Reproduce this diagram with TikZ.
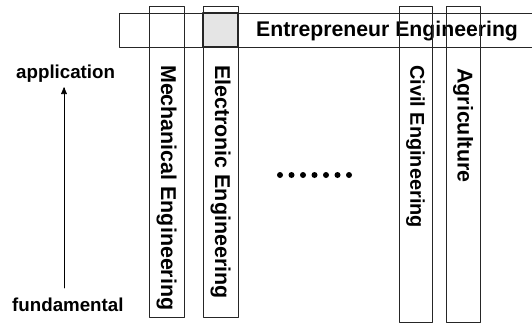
\documentclass[tikz,border=0pt]{standalone}
\usepackage{fontspec}
\setmainfont{Liberation Sans}[BoldFont={Liberation Sans Bold}]
\usepackage{tikz}
\usetikzlibrary{arrows}

\begin{document}
\begin{tikzpicture}[line cap=round,line join=round,>=triangle 45,x=1bp,y=1bp]
\useasboundingbox (0,0) rectangle (532,323);
\tikzstyle{field}= [draw=black!85, line width=0.8pt, inner sep=0pt, minimum width=35bp];
\tikzstyle{vlabel}= [rotate=-90, anchor=west, inner sep=0pt, font=\fontsize{21.5}{24}\selectfont\bfseries];
\tikzstyle{hlabel}= [anchor=base west, inner sep=0pt, font=\fontsize{18.8}{21}\selectfont\bfseries];
% horizontal bar
\node [field, minimum width=426bp, minimum height=34bp] (bar) at (332,293) {};
\node [field, fill=black!10, line width=1.2pt, minimum height=34bp] (cell) at (220.5,293) {};
\node [anchor=base west, inner sep=0pt, font=\fontsize{21.3}{24}\selectfont\bfseries] (entre) at (256,287) {Entrepreneur Engineering};
% vertical fields
\node [field, minimum height=311bp] (mech) at (166.5,161.5) {};
\node [field, minimum height=311bp] (elec) at (220.5,161.5) {};
\node [field, minimum width=33bp, minimum height=316bp] (civil) at (415.5,159) {};
\node [field, minimum width=34bp, minimum height=316bp] (agri) at (463,159) {};
\node [vlabel] (mechtxt) at (mech.center |- 0,258) {Mechanical Engineering};
\node [vlabel] (electxt) at (elec.center |- 0,258) {Electronic Engineering};
\node [vlabel, font=\fontsize{20}{22}\selectfont\bfseries] (civiltxt) at (civil.center |- 0,258) {Civil Engineering};
\node [vlabel] (agritxt) at (agri.center |- 0,255) {Agriculture};
% axis
\node [hlabel] (appl) at (16,245) {application};
\node [hlabel] (fund) at (12,12) {fundamental};
\coordinate (low) at (64,35);
\coordinate (high) at (64,236);
\draw [->, line width=0.6pt] (low) -- (high);
% dots
\foreach \i in {0,...,6}
  \fill (280+11.5*\i,148) circle (3);
\end{tikzpicture}
\end{document}
